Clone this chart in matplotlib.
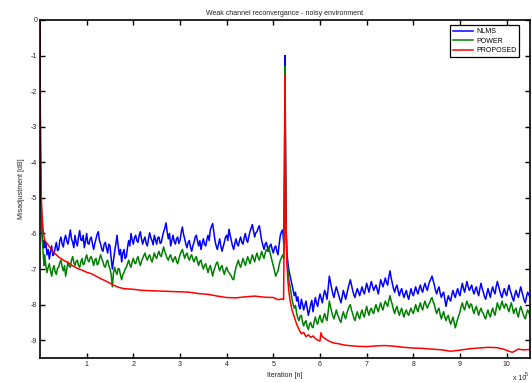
import matplotlib

matplotlib.use("Agg")

import matplotlib.pyplot as plt
import numpy as np

plt.rcParams["font.family"] = ["Liberation Sans", "DejaVu Sans"]

# iterations in units of 1e5
start_x = [0.0, 0.003, 0.01, 0.02, 0.035, 0.05, 0.07, 0.085]
pre_x = np.round(np.arange(0.10, 5.2001, 0.025), 4)
spike_x = [5.225, 5.24, 5.25, 5.26, 5.275, 5.29, 5.31, 5.33, 5.36]
post_x = np.round(np.arange(5.40, 10.5001, 0.025), 4)

nlms_start = [0.0, -2.0, -3.8, -4.9, -5.6, -6.1, -6.4, -6.2]
nlms_pre = [
    -6.40, -6.25, -6.60, -6.45, -6.72, -6.50, -6.35, -6.62, -6.58, -6.40, -6.25, -6.48, -6.45, -6.20, -6.10, -6.30, -6.38, -6.15, -6.05, -6.22,
    -6.30, -6.10, -5.90, -6.15, -6.25, -6.40, -6.05, -6.25, -6.35, -6.10, -5.92, -6.18, -6.20, -6.05, -6.40, -6.22, -6.00, -6.28, -6.30, -6.15,
    -6.10, -6.30, -6.45, -6.28, -6.15, -6.02, -5.95, -6.20, -6.30, -6.45, -6.50, -6.30, -6.25, -6.42, -6.55, -6.30, -6.35, -6.70, -7.00, -6.75,
    -6.50, -6.30, -6.05, -6.35, -6.60, -6.45, -6.80, -6.55, -6.45, -6.70, -6.65, -6.40, -6.20, -6.35, -6.00, -6.18, -6.30, -6.12, -6.05, -6.20,
    -6.25, -6.05, -5.95, -6.15, -6.30, -6.18, -6.10, -6.28, -6.35, -6.15, -5.98, -6.12, -6.20, -6.32, -6.05, -6.18, -6.30, -6.12, -6.10, -6.28,
    -6.25, -6.08, -5.95, -5.85, -5.70, -5.95, -6.15, -6.00, -6.35, -6.20, -6.05, -6.22, -6.30, -6.15, -6.10, -6.28, -6.20, -5.98, -5.82, -6.02,
    -6.15, -6.30, -6.40, -6.25, -6.20, -6.38, -6.50, -6.35, -6.25, -6.10, -6.05, -6.22, -6.35, -6.20, -6.45, -6.28, -6.15, -6.30, -6.35, -6.18,
    -6.05, -6.20, -5.90, -5.80, -5.72, -5.95, -6.20, -6.35, -6.45, -6.30, -6.15, -6.35, -6.50, -6.38, -6.25, -6.10, -6.05, -6.20, -5.88, -6.05,
    -6.20, -6.35, -6.45, -6.28, -6.15, -6.30, -6.35, -6.20, -6.10, -6.25, -6.30, -6.12, -6.00, -6.18, -6.25, -6.08, -5.95, -5.85, -5.75, -5.92,
    -6.10, -5.98, -5.95, -5.85, -5.78, -6.00, -6.20, -6.32, -6.45, -6.30, -6.25, -6.40, -6.50, -6.35, -6.30, -6.45, -6.55, -6.40, -6.35, -6.50,
    -6.60, -6.30, -6.05, -5.95, -5.90,
]
nlms_spike = [-6.30, -4.0, -1.0, -3.5, -5.9, -6.5, -6.8, -7.0, -7.2]
nlms_post = [
    -7.45, -7.62, -7.75, -7.65, -7.90, -7.78, -8.05, -8.12, -7.85, -7.98, -8.15, -8.02, -7.90, -8.10, -8.30, -8.15, -8.00, -7.88, -8.20, -8.00,
    -7.80, -7.95, -8.05, -7.85, -7.70, -7.82, -7.95, -7.75, -7.60, -7.70, -7.85, -7.55, -7.20, -7.38, -7.55, -7.70, -7.80, -7.62, -7.50, -7.62,
    -7.75, -7.85, -7.95, -7.78, -7.60, -7.72, -7.85, -7.70, -7.55, -7.42, -7.30, -7.45, -7.60, -7.72, -7.80, -7.65, -7.55, -7.65, -7.75, -7.62,
    -7.50, -7.62, -7.70, -7.55, -7.40, -7.52, -7.65, -7.48, -7.35, -7.48, -7.60, -7.52, -7.45, -7.58, -7.70, -7.50, -7.30, -7.40, -7.50, -7.38,
    -7.25, -7.38, -7.45, -7.22, -7.05, -7.25, -7.40, -7.55, -7.65, -7.52, -7.45, -7.62, -7.75, -7.62, -7.55, -7.70, -7.80, -7.68, -7.60, -7.75,
    -7.85, -7.70, -7.55, -7.68, -7.75, -7.62, -7.50, -7.62, -7.70, -7.55, -7.45, -7.58, -7.65, -7.50, -7.40, -7.52, -7.60, -7.45, -7.35, -7.28,
    -7.20, -7.32, -7.45, -7.60, -7.70, -7.58, -7.50, -7.68, -7.80, -7.70, -7.65, -7.85, -8.05, -7.88, -7.75, -7.85, -7.90, -7.72, -7.60, -7.72,
    -7.80, -7.65, -7.55, -7.68, -7.75, -7.55, -7.40, -7.55, -7.65, -7.48, -7.35, -7.50, -7.60, -7.52, -7.45, -7.60, -7.70, -7.58, -7.50, -7.65,
    -7.75, -7.55, -7.40, -7.55, -7.65, -7.78, -7.85, -7.70, -7.55, -7.68, -7.80, -7.62, -7.50, -7.62, -7.70, -7.50, -7.35, -7.48, -7.60, -7.72,
    -7.80, -7.65, -7.55, -7.68, -7.75, -7.58, -7.45, -7.60, -7.70, -7.82, -7.90, -7.72, -7.60, -7.72, -7.80, -7.65, -7.50, -7.62, -7.75, -7.88,
    -7.95, -7.78, -7.65, -7.72, -7.80,
]

power_start = [0.0, -1.8, -3.5, -4.8, -5.6, -6.2, -6.6, -6.9]
power_pre = [
    -6.60, -6.90, -7.10, -6.95, -6.85, -7.05, -7.20, -7.00, -6.90, -7.08, -7.15, -6.98, -6.95, -6.82, -6.75, -6.95, -7.05, -6.90, -7.20, -7.00,
    -6.80, -6.92, -6.95, -6.75, -6.65, -6.82, -6.90, -6.78, -6.75, -6.90, -6.95, -6.80, -6.70, -6.88, -6.85, -6.70, -6.60, -6.75, -6.80, -6.68,
    -6.65, -6.78, -6.90, -6.75, -6.70, -6.88, -6.85, -6.70, -6.60, -6.72, -6.80, -6.92, -6.95, -6.80, -6.75, -6.90, -7.00, -7.15, -7.50, -7.10,
    -6.95, -7.08, -7.15, -6.98, -7.00, -7.18, -7.30, -7.15, -7.10, -7.00, -6.95, -6.85, -6.75, -6.88, -6.95, -6.80, -6.70, -6.82, -6.85, -6.72,
    -6.65, -6.80, -6.90, -6.78, -6.70, -6.62, -6.55, -6.68, -6.75, -6.65, -6.60, -6.72, -6.80, -6.68, -6.55, -6.65, -6.70, -6.58, -6.50, -6.62,
    -6.65, -6.50, -6.38, -6.52, -6.60, -6.70, -6.75, -6.65, -6.60, -6.72, -6.80, -6.70, -6.65, -6.78, -6.85, -6.72, -6.60, -6.52, -6.45, -6.58,
    -6.70, -6.60, -6.55, -6.68, -6.75, -6.65, -6.60, -6.72, -6.80, -6.70, -6.65, -6.80, -6.90, -6.78, -6.75, -6.90, -7.00, -6.90, -6.85, -6.98,
    -7.10, -6.98, -6.90, -7.05, -7.20, -7.05, -6.95, -6.85, -6.80, -6.92, -7.05, -6.95, -6.90, -7.05, -7.15, -7.02, -6.95, -7.05, -7.10, -7.15,
    -7.20, -7.28, -7.30, -7.10, -6.95, -6.85, -6.75, -6.88, -6.95, -6.82, -6.70, -6.80, -6.90, -6.78, -6.65, -6.75, -6.85, -6.72, -6.60, -6.70,
    -6.80, -6.65, -6.55, -6.68, -6.75, -6.62, -6.50, -6.62, -6.70, -6.55, -6.45, -6.50, -6.38, -6.52, -6.65, -6.78, -6.90, -7.05, -7.20, -7.12,
    -7.05, -6.88, -6.75, -6.68, -6.60,
]
power_spike = [-6.70, -4.2, -1.3, -3.8, -6.0, -6.7, -7.0, -7.3, -7.5]
power_post = [
    -7.85, -8.00, -8.10, -8.02, -8.25, -8.38, -8.45, -8.32, -8.30, -8.48, -8.60, -8.50, -8.45, -8.62, -8.70, -8.55, -8.50, -8.62, -8.65, -8.48,
    -8.35, -8.48, -8.55, -8.40, -8.30, -8.45, -8.50, -8.35, -8.25, -8.38, -8.45, -8.20, -7.90, -8.05, -8.20, -8.32, -8.40, -8.28, -8.15, -8.28,
    -8.35, -8.45, -8.50, -8.32, -8.20, -8.32, -8.40, -8.25, -8.15, -8.05, -8.00, -8.15, -8.25, -8.38, -8.45, -8.30, -8.20, -8.32, -8.40, -8.25,
    -8.15, -8.28, -8.35, -8.18, -8.05, -8.20, -8.30, -8.15, -8.10, -8.20, -8.25, -8.10, -8.00, -8.12, -8.20, -8.05, -7.95, -8.08, -8.15, -8.00,
    -7.90, -7.98, -8.05, -7.88, -7.75, -7.90, -8.00, -8.15, -8.25, -8.12, -8.05, -8.20, -8.30, -8.18, -8.10, -8.25, -8.35, -8.22, -8.15, -8.25,
    -8.30, -8.18, -8.10, -8.20, -8.25, -8.12, -8.00, -8.12, -8.20, -8.05, -7.95, -8.08, -8.15, -8.00, -7.90, -8.02, -8.10, -8.00, -7.95, -7.85,
    -7.80, -7.92, -8.00, -8.15, -8.25, -8.15, -8.10, -8.28, -8.40, -8.28, -8.20, -8.35, -8.45, -8.35, -8.30, -8.45, -8.55, -8.45, -8.35, -8.50,
    -8.65, -8.52, -8.40, -8.30, -8.20, -8.05, -7.95, -8.08, -8.15, -8.00, -7.90, -8.02, -8.10, -7.98, -8.00, -8.15, -8.25, -8.12, -8.05, -8.18,
    -8.30, -8.18, -8.10, -8.20, -8.25, -8.35, -8.40, -8.25, -8.15, -8.28, -8.35, -8.20, -8.10, -8.22, -8.30, -8.12, -7.95, -8.05, -8.15, -8.02,
    -7.90, -8.02, -8.10, -7.98, -8.00, -8.12, -8.20, -8.05, -7.95, -8.10, -8.25, -8.15, -8.10, -8.25, -8.35, -8.18, -8.05, -8.15, -8.25, -8.35,
    -8.40, -8.25, -8.15, -8.22, -8.30,
]

proposed_x = [
    0.0, 0.003, 0.008, 0.015, 0.025, 0.04, 0.06, 0.08,
    0.1, 0.2, 0.3, 0.4, 0.5, 0.6, 0.7, 0.8, 0.9, 1.0, 1.1, 1.2, 1.3, 1.4, 1.5, 1.6, 1.7, 1.8,
    2.0, 2.2, 2.4, 2.6, 2.8, 3.0, 3.2, 3.4, 3.6, 3.8, 4.0, 4.2, 4.4, 4.6, 4.8, 5.0,
    5.1, 5.2,
    5.22, 5.24, 5.25, 5.26, 5.275, 5.29, 5.31, 5.33, 5.36,
    5.40, 5.45, 5.50, 5.55, 5.60, 5.65, 5.70, 5.75, 5.80, 5.85, 5.90, 5.95, 6.00,
    6.02, 6.05, 6.10,
    6.20, 6.30, 6.40, 6.50, 6.60,
    6.8, 7.0, 7.2, 7.4, 7.6, 7.8, 8.0, 8.2, 8.4, 8.6, 8.8, 9.0, 9.2, 9.4, 9.6, 9.8,
    9.95, 10.05, 10.12, 10.18, 10.25, 10.35, 10.50,
]
proposed_y = [
    0.0, -1.5, -3.0, -4.2, -4.9, -5.4, -5.8, -6.05,
    -6.19, -6.37, -6.54, -6.66, -6.75, -6.82, -6.91, -6.98, -7.03, -7.09, -7.13, -7.20, -7.27, -7.33, -7.40, -7.47, -7.52, -7.55,
    -7.57, -7.60, -7.61, -7.62, -7.63, -7.64, -7.65, -7.69, -7.71, -7.76, -7.80, -7.81, -7.78, -7.76, -7.79, -7.80,
    -7.86, -7.84,
    -7.85, -4.5, -1.55, -4.0, -6.0, -6.8, -7.3, -7.6, -7.9,
    -8.15, -8.35, -8.55, -8.70, -8.82, -8.78, -8.90, -8.85, -8.92, -8.88, -8.95, -9.00, -9.02,
    -8.79, -8.90, -8.95,
    -9.03, -9.08, -9.10, -9.13, -9.15,
    -9.17, -9.18, -9.16, -9.15, -9.17, -9.20, -9.22, -9.23, -9.25, -9.27, -9.31, -9.28, -9.24, -9.22, -9.20, -9.21,
    -9.26, -9.31, -9.34, -9.30, -9.25, -9.27, -9.26,
]

x_tick_labels = ["1", "2", "3", "4", "5", "6", "7", "8", "9", "10"]
y_ticks = [0, -1, -2, -3, -4, -5, -6, -7, -8, -9]

nlms_x = np.concatenate([start_x, pre_x, spike_x, post_x])
nlms_y = np.concatenate([nlms_start, nlms_pre, nlms_spike, nlms_post])
power_y = np.concatenate([power_start, power_pre, power_spike, power_post])

W, H = 532, 383
fig = plt.figure(figsize=(W / 100, H / 100), dpi=100)
ax = fig.add_axes([40 / W, 1 - 358 / H, 490 / W, 338 / H])

ax.plot(nlms_x, nlms_y, color="#0000ff", lw=1.1, label="NLMS")
ax.plot(nlms_x, power_y, color="#008000", lw=1.1, label="POWER")
ax.plot(proposed_x, proposed_y, color="#ff0000", lw=1.1, label="PROPOSED")

ax.set_xlim(0, 10.5)
ax.set_ylim(-9.5, 0)
ax.set_xticks(range(1, 11))
ax.set_xticklabels(x_tick_labels)
ax.set_yticks(y_ticks)
ax.set_yticklabels([str(v) for v in y_ticks])

fs = 5
ax.tick_params(direction="in", length=3.6, width=1.0, top=True, right=True,
               labelsize=fs, pad=2, colors="black", labelcolor="#222222")
for sp in ax.spines.values():
    sp.set_linewidth(1.2)

ax.set_title("Weak channel reconvergance - noisy environment", fontsize=fs,
             pad=3.5, color="#222222")
ax.set_xlabel("Iteration [n]", fontsize=fs, labelpad=3, color="#222222")
ax.set_ylabel("Misadjustment [dB]", fontsize=fs, labelpad=4, color="#222222")

fig.text(513 / W, 1 - 380 / H, "x 10", fontsize=fs, color="#222222",
         ha="left", va="baseline")
fig.text(525 / W, 1 - 376 / H, "5", fontsize=fs * 0.75, color="#222222",
         ha="left", va="baseline")

leg = ax.legend(loc="upper right", bbox_to_anchor=(519.3 / W, 1 - 25 / H),
                bbox_transform=fig.transFigure, borderaxespad=0, fontsize=fs,
                fancybox=False, framealpha=1, edgecolor="black",
                handlelength=3.0, handletextpad=0.35, labelspacing=0.36,
                borderpad=0.45)
leg.get_frame().set_linewidth(0.9)

fig.savefig("out.png", dpi=100)
